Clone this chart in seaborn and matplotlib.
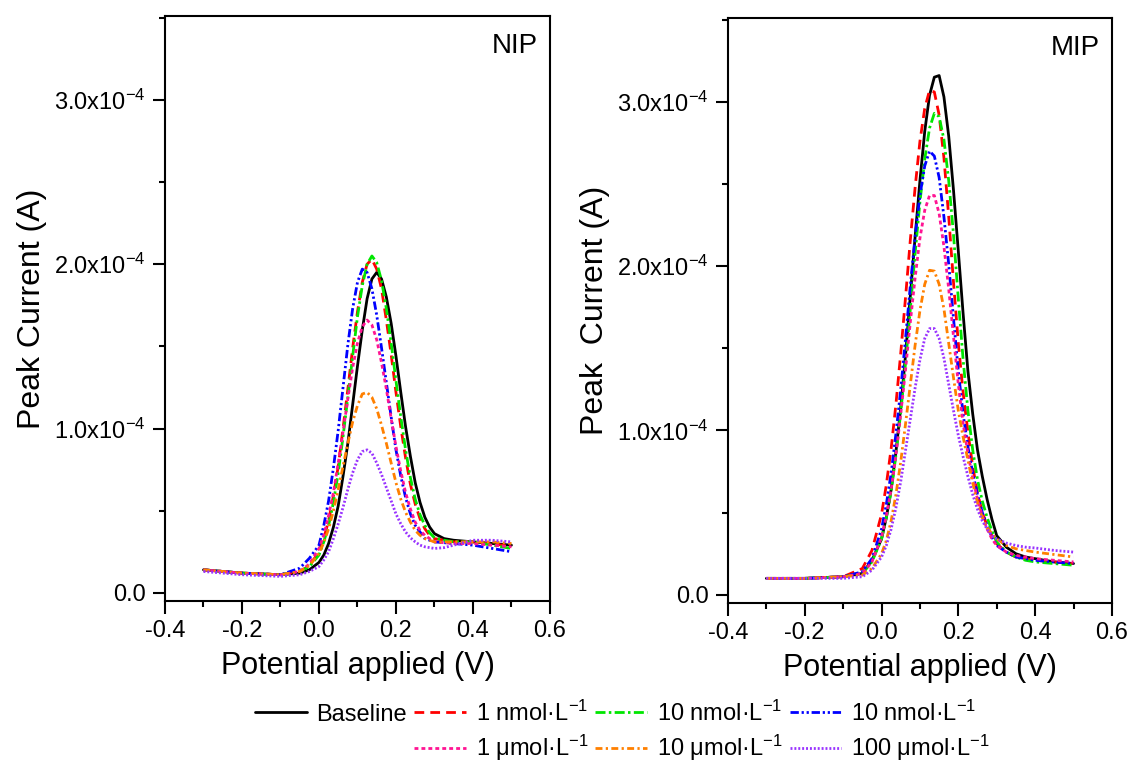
import numpy as np
import pandas as pd
import matplotlib
matplotlib.use("Agg")
import matplotlib.pyplot as plt
import seaborn as sns
from matplotlib.ticker import MultipleLocator, FuncFormatter
from matplotlib.lines import Line2D

# ---------------- data (current in units of 1e-4 A) ----------------
potential = [-0.3, -0.2, -0.1, -0.05, -0.025, 0.0, 0.0125, 0.025, 0.0375, 0.05, 0.0625,
             0.075, 0.0875, 0.1, 0.1125, 0.125, 0.1375, 0.15, 0.1625, 0.175, 0.1875,
             0.2, 0.2125, 0.225, 0.2375, 0.25, 0.2625, 0.275, 0.2875, 0.3, 0.325,
             0.35, 0.375, 0.4, 0.45, 0.5]

series_keys = ["baseline", "1n", "10n_a", "10n_b", "1u", "10u", "100u"]
legend_labels = ["Baseline", "1 nmol·L$^{-1}$", "10 nmol·L$^{-1}$", "10 nmol·L$^{-1}$",
                 "1 μmol·L$^{-1}$", "10 μmol·L$^{-1}$", "100 μmol·L$^{-1}$"]

nip_baseline = [0.14, 0.12, 0.11, 0.12, 0.14, 0.185, 0.23, 0.30, 0.40, 0.53, 0.71, 0.91,
                1.145, 1.38, 1.60, 1.79, 1.91, 1.95, 1.91, 1.80, 1.64, 1.44, 1.22, 1.01,
                0.83, 0.67, 0.55, 0.46, 0.40, 0.36, 0.33, 0.32, 0.315, 0.31, 0.30, 0.29]
nip_1n = [0.14, 0.12, 0.11, 0.13, 0.165, 0.25, 0.33, 0.44, 0.59, 0.77, 1.00, 1.24,
          1.49, 1.71, 1.89, 2.00, 2.03, 1.97, 1.85, 1.66, 1.45, 1.22, 1.01, 0.82,
          0.66, 0.54, 0.45, 0.39, 0.35, 0.33, 0.32, 0.31, 0.31, 0.31, 0.30, 0.28]
nip_10n_a = [0.14, 0.12, 0.11, 0.13, 0.16, 0.23, 0.31, 0.41, 0.55, 0.73, 0.95, 1.19,
             1.44, 1.68, 1.87, 2.00, 2.05, 2.01, 1.90, 1.73, 1.52, 1.29, 1.07, 0.87,
             0.70, 0.57, 0.475, 0.41, 0.365, 0.335, 0.32, 0.31, 0.31, 0.31, 0.29, 0.27]
nip_10n_b = [0.14, 0.12, 0.11, 0.15, 0.21, 0.29, 0.41, 0.56, 0.76, 0.99, 1.25, 1.51,
             1.73, 1.89, 1.97, 1.95, 1.85, 1.69, 1.49, 1.28, 1.07, 0.87, 0.71, 0.58,
             0.48, 0.41, 0.37, 0.33, 0.32, 0.31, 0.305, 0.30, 0.295, 0.29, 0.27, 0.25]
nip_1u = [0.14, 0.12, 0.11, 0.13, 0.175, 0.27, 0.35, 0.47, 0.61, 0.79, 0.98, 1.18,
          1.37, 1.52, 1.62, 1.66, 1.63, 1.54, 1.40, 1.24, 1.06, 0.89, 0.74, 0.61,
          0.51, 0.43, 0.38, 0.35, 0.33, 0.31, 0.305, 0.30, 0.30, 0.30, 0.29, 0.28]
nip_10u = [0.14, 0.12, 0.11, 0.13, 0.165, 0.24, 0.305, 0.39, 0.50, 0.63, 0.77, 0.91,
           1.04, 1.14, 1.21, 1.22, 1.19, 1.12, 1.02, 0.91, 0.79, 0.67, 0.57, 0.49,
           0.43, 0.38, 0.35, 0.33, 0.32, 0.31, 0.31, 0.31, 0.31, 0.31, 0.31, 0.30]
nip_100u = [0.13, 0.11, 0.10, 0.11, 0.13, 0.16, 0.20, 0.25, 0.33, 0.42, 0.52, 0.63,
            0.73, 0.81, 0.86, 0.87, 0.85, 0.79, 0.72, 0.64, 0.56, 0.48, 0.42, 0.37,
            0.335, 0.31, 0.29, 0.28, 0.275, 0.27, 0.275, 0.29, 0.305, 0.32, 0.32, 0.31]

mip_baseline = [0.10, 0.10, 0.11, 0.13, 0.21, 0.34, 0.47, 0.64, 0.87, 1.14, 1.46, 1.82,
                2.18, 2.52, 2.82, 3.04, 3.15, 3.16, 3.03, 2.79, 2.46, 2.09, 1.71, 1.36,
                1.10, 0.88, 0.72, 0.58, 0.46, 0.36, 0.29, 0.25, 0.23, 0.22, 0.20, 0.19]
mip_1n = [0.10, 0.10, 0.11, 0.16, 0.27, 0.49, 0.67, 0.89, 1.16, 1.47, 1.81, 2.16,
          2.48, 2.76, 2.96, 3.07, 3.06, 2.92, 2.66, 2.30, 1.90, 1.53, 1.23, 0.99,
          0.78, 0.62, 0.50, 0.42, 0.36, 0.31, 0.26, 0.23, 0.22, 0.21, 0.20, 0.19]
mip_10n_a = [0.10, 0.10, 0.11, 0.13, 0.20, 0.34, 0.47, 0.63, 0.85, 1.11, 1.41, 1.74,
             2.08, 2.39, 2.65, 2.84, 2.93, 2.91, 2.77, 2.52, 2.19, 1.80, 1.43, 1.12,
             0.88, 0.70, 0.57, 0.47, 0.39, 0.32, 0.26, 0.23, 0.21, 0.20, 0.19, 0.18]
mip_10n_b = [0.10, 0.10, 0.11, 0.14, 0.22, 0.40, 0.55, 0.74, 0.98, 1.25, 1.56, 1.88,
             2.18, 2.43, 2.61, 2.70, 2.67, 2.54, 2.30, 2.01, 1.68, 1.36, 1.10, 0.90,
             0.74, 0.61, 0.50, 0.42, 0.35, 0.30, 0.26, 0.23, 0.22, 0.21, 0.20, 0.19]
mip_1u = [0.10, 0.10, 0.11, 0.13, 0.20, 0.35, 0.48, 0.64, 0.85, 1.10, 1.37, 1.66,
          1.93, 2.17, 2.34, 2.43, 2.43, 2.32, 2.12, 1.86, 1.57, 1.28, 1.04, 0.86,
          0.71, 0.58, 0.48, 0.40, 0.34, 0.30, 0.26, 0.24, 0.23, 0.22, 0.21, 0.20]
mip_10u = [0.10, 0.10, 0.11, 0.12, 0.16, 0.25, 0.33, 0.45, 0.61, 0.81, 1.04, 1.28,
           1.52, 1.73, 1.89, 1.975, 1.97, 1.89, 1.74, 1.53, 1.32, 1.12, 0.96, 0.82,
           0.68, 0.56, 0.47, 0.41, 0.37, 0.34, 0.30, 0.28, 0.27, 0.26, 0.245, 0.23]
mip_100u = [0.10, 0.10, 0.10, 0.11, 0.15, 0.23, 0.30, 0.40, 0.53, 0.69, 0.88, 1.07,
            1.26, 1.43, 1.56, 1.62, 1.62, 1.56, 1.44, 1.28, 1.12, 0.97, 0.84, 0.72,
            0.61, 0.52, 0.45, 0.40, 0.36, 0.34, 0.315, 0.30, 0.29, 0.285, 0.27, 0.26]

nip_data = [nip_baseline, nip_1n, nip_10n_a, nip_10n_b, nip_1u, nip_10u, nip_100u]
mip_data = [mip_baseline, mip_1n, mip_10n_a, mip_10n_b, mip_1u, mip_10u, mip_100u]

panel_titles = ["NIP", "MIP"]
ylabels = ["Peak Current (A)", "Peak  Current (A)"]
xlabel = "Potential applied (V)"

# ---------------- styles ----------------
colors = {"baseline": "#000000", "1n": "#FF0000", "10n_a": "#00E600", "10n_b": "#0000FF",
          "1u": "#FF1493", "10u": "#FF8000", "100u": "#9933FF"}
dashes = {"baseline": "", "1n": (3.5, 2.2), "10n_a": (3.6, 1.2, 0.9, 1.2),
          "10n_b": (3.0, 1.0, 0.8, 1.0, 0.8, 1.0), "1u": (1.4, 1.1),
          "10u": (2.5, 1.2, 0.8, 1.2), "100u": (0.7, 0.7)}
LW = 2.0

sns.set_style("white")
plt.rcParams["font.family"] = ["Liberation Sans", "DejaVu Sans"]
plt.rcParams["mathtext.default"] = "regular"
plt.rcParams["axes.unicode_minus"] = False
plt.rcParams["text.color"] = "black"
plt.rcParams["axes.labelcolor"] = "black"
plt.rcParams["xtick.color"] = "black"
plt.rcParams["ytick.color"] = "black"


def make_df(data):
    frames = []
    for key, vals in zip(series_keys, data):
        frames.append(pd.DataFrame({"V": potential,
                                    "I": np.array(vals) * 1e-4,
                                    "series": key}))
    return pd.concat(frames, ignore_index=True)


fig = plt.figure(figsize=(11.3, 7.61), dpi=100)
ax1 = fig.add_axes([0.146, 0.2102, 0.3407, 0.7687])
ax2 = fig.add_axes([0.6442, 0.2076, 0.3398, 0.7687])

xfmt = FuncFormatter(lambda v, p: "0.0" if abs(v) < 1e-9 else f"{v:.1f}")
yfmt = FuncFormatter(lambda v, p: "0.0" if abs(v) < 1e-10 else f"{v/1e-4:.1f}x10$^{{-4}}$")

for ax, data, title, ylab in zip([ax1, ax2], [nip_data, mip_data], panel_titles, ylabels):
    df = make_df(data)
    sns.lineplot(data=df, x="V", y="I", hue="series", style="series",
                 hue_order=series_keys, style_order=series_keys,
                 palette=colors, dashes=dashes, sort=False, errorbar=None,
                 linewidth=LW, legend=False, ax=ax)
    ax.set_xlim(-0.4, 0.6)
    ax.set_ylim(-0.05e-4, 3.51e-4)
    ax.xaxis.set_major_locator(MultipleLocator(0.2))
    ax.xaxis.set_minor_locator(MultipleLocator(0.1))
    ax.yaxis.set_major_locator(MultipleLocator(1e-4))
    ax.yaxis.set_minor_locator(MultipleLocator(0.5e-4))
    ax.xaxis.set_major_formatter(xfmt)
    ax.yaxis.set_major_formatter(yfmt)
    for sp in ax.spines.values():
        sp.set_visible(True)
        sp.set_linewidth(1.5)
        sp.set_color("black")
    ax.tick_params(which="both", direction="out", top=False, right=False,
                   bottom=True, left=True, width=1.5, color="black",
                   labelsize=17, labelcolor="black")
    ax.tick_params(which="major", length=9, pad=5)
    ax.tick_params(which="minor", length=4.5)
    ax.set_xlabel(xlabel, fontsize=22, labelpad=6, color="black")
    ax.set_ylabel(ylab, fontsize=23, labelpad=5, color="black")
    ax.text(0.969, 0.948, title, transform=ax.transAxes, ha="right", va="center",
            fontsize=20, color="black")
    ax.set_facecolor("white")

# legend: 4 columns, first slot of row 2 empty
def handle(key):
    if dashes[key] == "":
        return Line2D([], [], color=colors[key], lw=LW)
    return Line2D([], [], color=colors[key], lw=LW, linestyle=(0, dashes[key]))

blank = Line2D([], [], color="none", lw=0)
order = [(handle("baseline"), legend_labels[0]), (blank, ""),
         (handle("1n"), legend_labels[1]), (handle("1u"), legend_labels[4]),
         (handle("10n_a"), legend_labels[2]), (handle("10u"), legend_labels[5]),
         (handle("10n_b"), legend_labels[3]), (handle("100u"), legend_labels[6])]
fig.legend([h for h, _ in order], [l for _, l in order], ncol=4, loc="upper left",
           bbox_to_anchor=(0.2257, 0.0795), frameon=False, fontsize=17,
           handlelength=2.2, handletextpad=0.4, columnspacing=0.3,
           labelspacing=0.3, borderpad=0, borderaxespad=0, labelcolor="black")

fig.savefig("out.png", dpi=100, facecolor="white")
